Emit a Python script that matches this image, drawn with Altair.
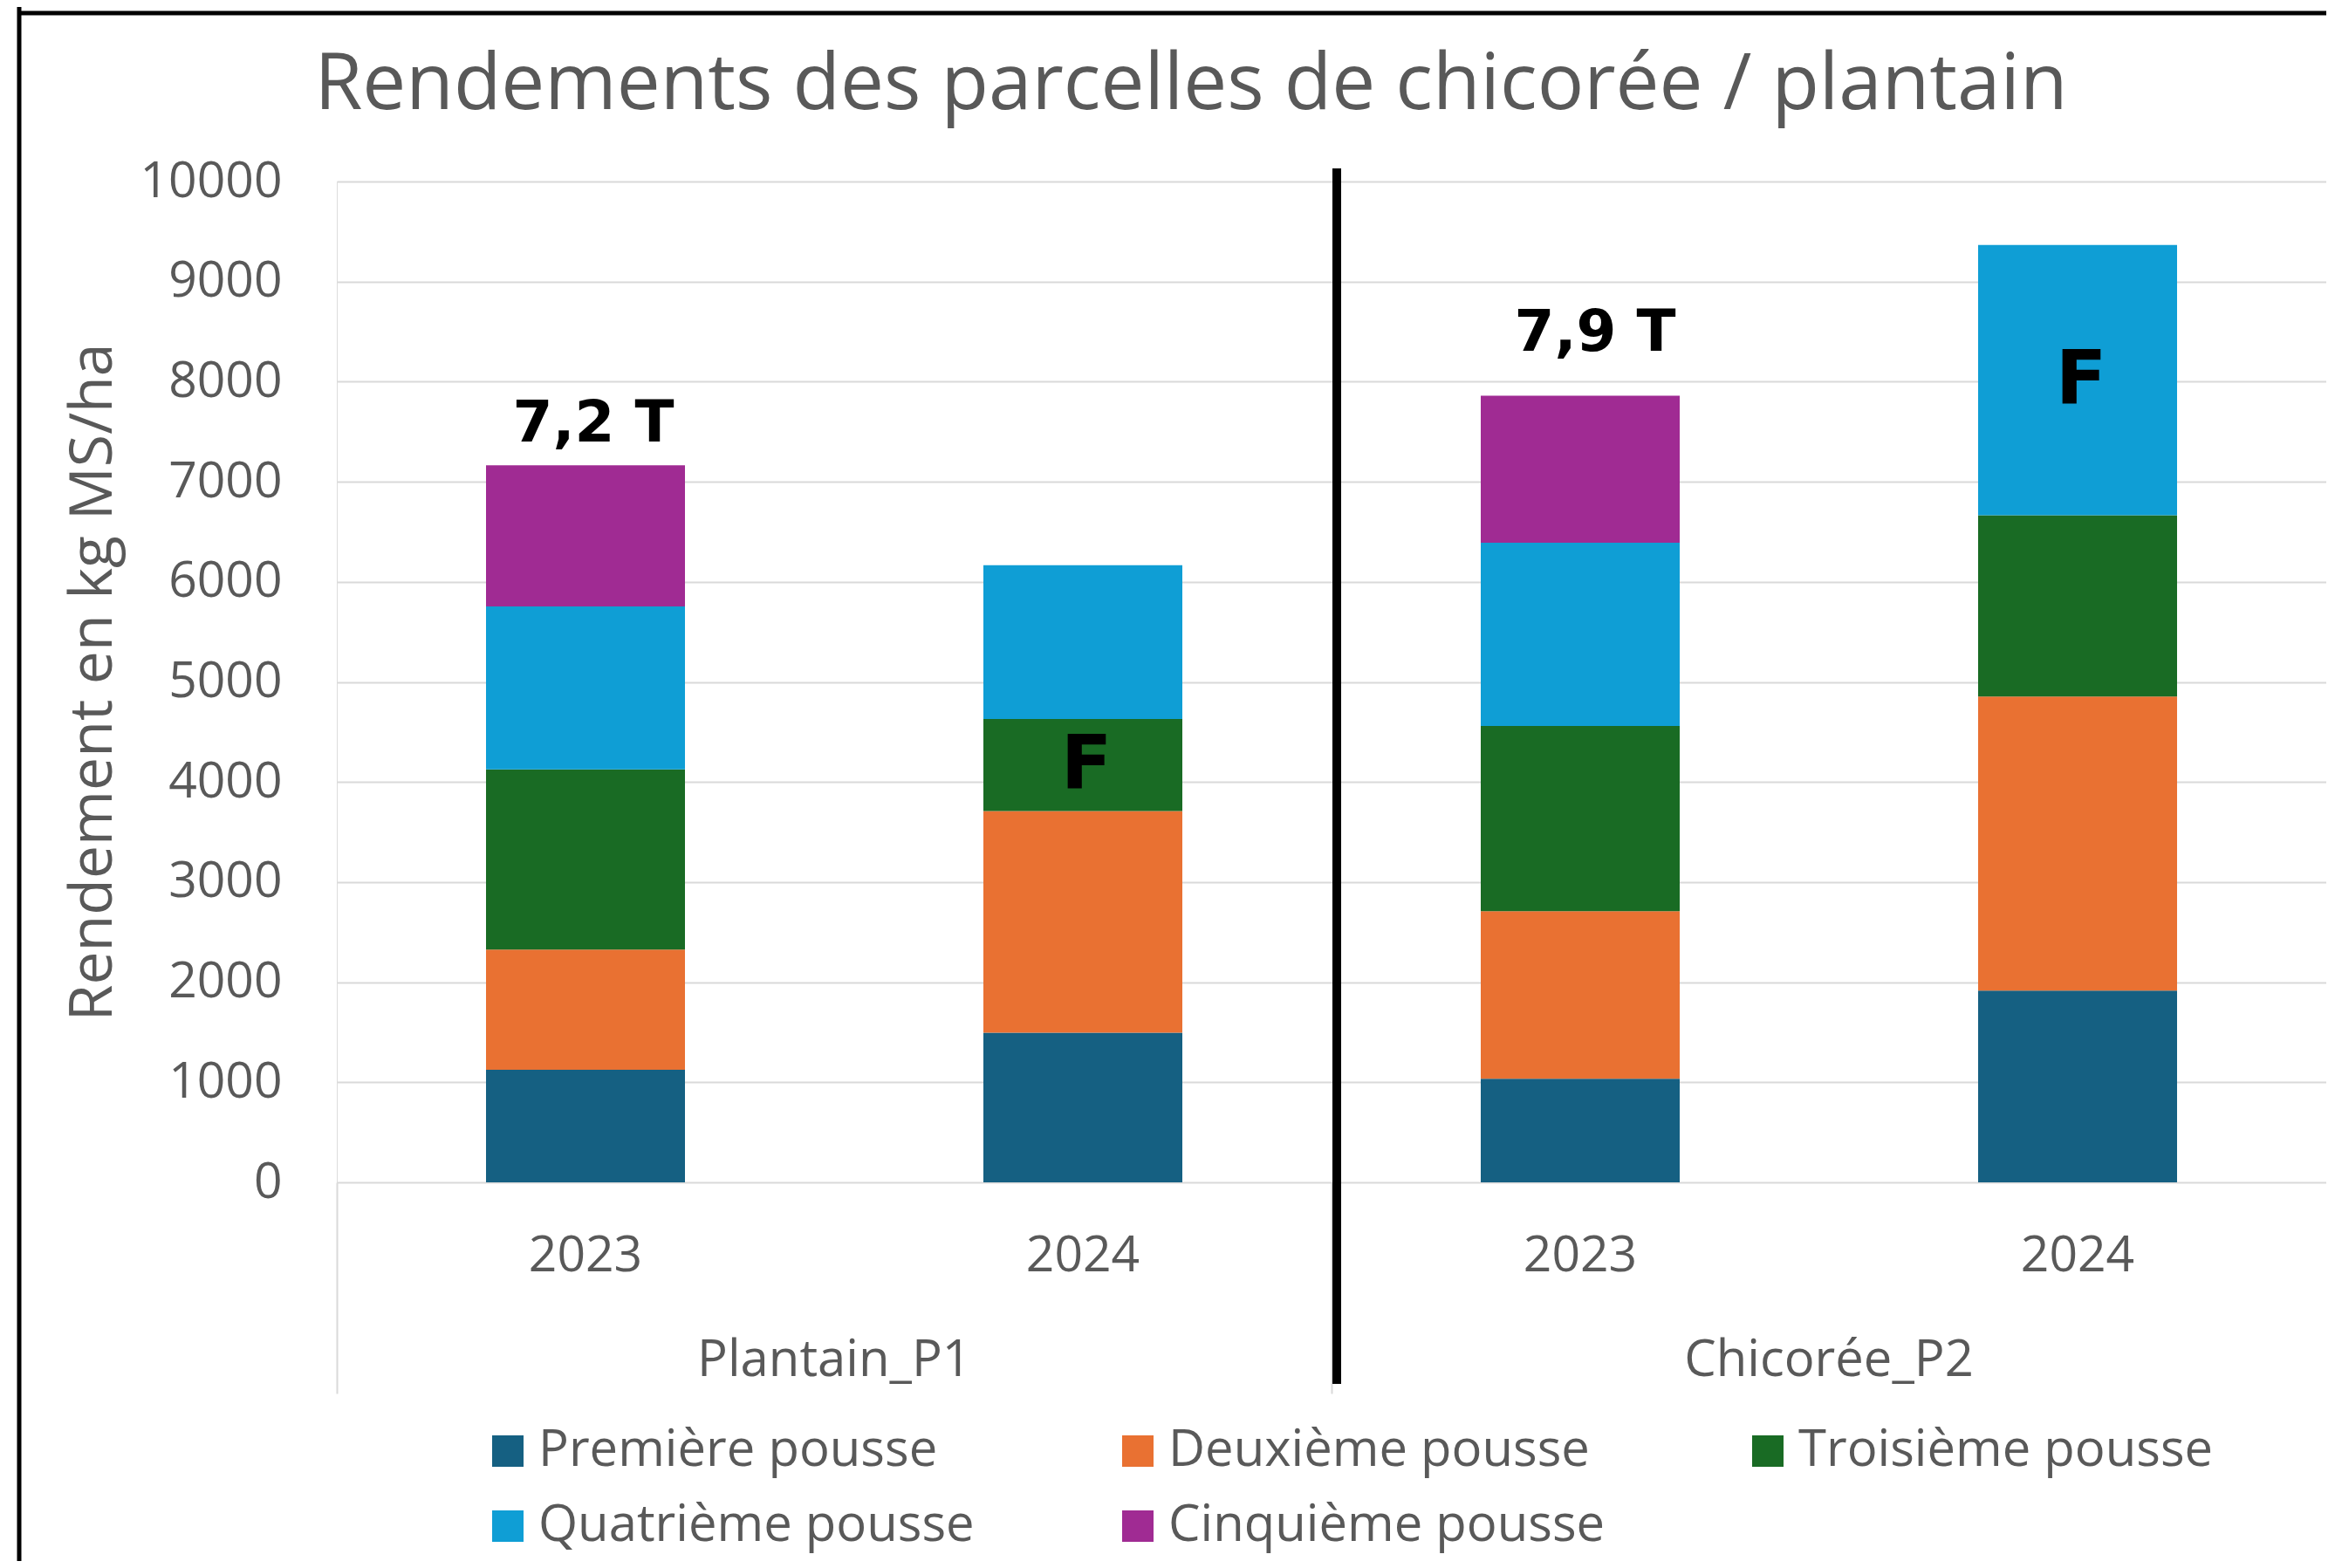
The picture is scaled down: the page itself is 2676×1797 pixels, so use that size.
import altair as alt
import pandas as pd

# ---------------- data ----------------
groups = ["Plantain_P1", "Chicorée_P2"]
years = ["2023", "2024"]
pousses = ["Première pousse", "Deuxième pousse", "Troisième pousse",
           "Quatrième pousse", "Cinquième pousse"]
colors = ["#156082", "#E97132", "#196B24", "#0F9ED5", "#A02B93"]

# kg MS/ha per pousse (None = no cut)
plantain_2023 = [1125, 1200, 1800, 1630, 1410]
plantain_2024 = [1495, 2215, 920, 1535, None]
chicoree_2023 = [1035, 1675, 1850, 1830, 1470]
chicoree_2024 = [1915, 2940, 1810, 2700, None]

total_keys = ["Plantain_P1 2023", "Chicorée_P2 2023"]
total_texts = ["7,2 T", "7,9 T"]
fauche_keys = ["Plantain_P1 2024", "Chicorée_P2 2024"]
fauche_pousses = ["Troisième pousse", "Quatrième pousse"]
fauche_text = "F"

y_ticks = [0, 1000, 2000, 3000, 4000, 5000, 6000, 7000, 8000, 9000, 10000]
title_text = "Rendements des parcelles de chicorée / plantain"
y_title = "Rendement en kg MS/ha"

series = {
    ("Plantain_P1", "2023"): plantain_2023,
    ("Plantain_P1", "2024"): plantain_2024,
    ("Chicorée_P2", "2023"): chicoree_2023,
    ("Chicorée_P2", "2024"): chicoree_2024,
}
fauche = set(zip(fauche_keys, fauche_pousses))
rows = []
for (g, yr), vals in series.items():
    key = f"{g} {yr}"
    for i, (p, v) in enumerate(zip(pousses, vals)):
        if v is None:
            continue
        rows.append(dict(group=g, year=yr, key=key, pousse=p, order=i, value=v,
                         note=fauche_text if (key, p) in fauche else ""))
df = pd.DataFrame(rows)
keys = [f"{g} {yr}" for g in groups for yr in years]

# ---------------- layout ----------------
W, H = 2280, 1147
FONT = "Open Sans"
GREY = "#595959"

xkey_scale = alt.Scale(type="band", domain=keys, paddingInner=0.6, paddingOuter=0.3)
yscale = alt.Scale(domain=[0, 10000], nice=False)

x_axis = alt.Axis(title=None, orient="bottom", labelExpr="split(datum.label, ' ')[1]",
                  labelAngle=0, labelFontSize=57, labelColor=GREY, labelFont=FONT,
                  labelPadding=56, ticks=False, domain=False, grid=False)
y_axis = alt.Axis(values=y_ticks, format="d", title=y_title, titleFontSize=68,
                  titleColor=GREY, titleFont=FONT, titleFontWeight="normal",
                  titleX=-259, titleY=H / 2, titleAngle=270, titleBaseline="alphabetic",
                  titleAlign="center", labelFontSize=57, labelColor=GREY, labelFont=FONT,
                  labelPadding=63, ticks=False, domain=False, grid=True,
                  gridColor="#D9D9D9", gridWidth=2)

X = alt.X("key:N", scale=xkey_scale, axis=x_axis, bandPosition=0.5)

bars = alt.Chart(df).mark_bar().encode(
    x=alt.X("key:N", scale=xkey_scale, axis=x_axis),
    y=alt.Y("value:Q", stack="zero", scale=yscale, axis=y_axis),
    color=alt.Color("pousse:N", scale=alt.Scale(domain=pousses, range=colors),
                    legend=alt.Legend(title=None, orient="none", legendX=167, legendY=1426,
                                      direction="horizontal", columns=3, symbolType="square",
                                      symbolSize=1296, symbolStrokeWidth=0, labelFontSize=58,
                                      labelColor=GREY, labelFont=FONT, labelOffset=6,
                                      columnPadding=157, rowPadding=28, gridAlign="all",
                                      padding=0, labelLimit=1200)),
    order=alt.Order("order:Q", sort="ascending"),
)


def total_label(i, dx, dy):
    return alt.Chart(df).transform_aggregate(
        total="sum(value)", groupby=["key"]
    ).transform_filter(
        alt.datum.key == total_keys[i]
    ).mark_text(
        text=total_texts[i], font="DejaVu Sans", fontWeight="bold", fontSize=66,
        color="black", baseline="alphabetic", align="center", dy=dy, dx=dx
    ).encode(
        x=X,
        y=alt.Y("total:Q", scale=yscale, axis=y_axis),
    )


f_labels = alt.Chart(df).transform_stack(
    stack="value", groupby=["key"], as_=["v0", "v1"],
    sort=[alt.SortField("order", "ascending")]
).transform_calculate(
    mid="(datum.v0 + datum.v1) / 2"
).transform_filter(
    alt.datum.note == fauche_text
).mark_text(
    font="DejaVu Sans", fontWeight="bold", fontSize=86, color="black",
    baseline="middle", align="center", dx=4
).encode(
    x=X,
    y=alt.Y("mid:Q", scale=yscale, axis=y_axis),
    text="note:N",
)

main = alt.layer(bars, total_label(0, 9, -27), total_label(1, 17, -51), f_labels)

# group axis + black separator
group_scale = alt.Scale(type="band", domain=groups, paddingInner=0, paddingOuter=0)
group_axis = alt.Axis(title=None, orient="bottom", labelAngle=0, labelFontSize=58,
                      labelColor=GREY, labelFont=FONT, labelPadding=-67, labelLimit=1000,
                      ticks=True, tickSize=242, tickColor="#D9D9D9", tickWidth=2,
                      bandPosition=0, domain=False, grid=False)
sep_df = pd.DataFrame({"group": [groups[1]]})
sep = alt.Chart(sep_df).mark_rule(color="black", strokeWidth=10, xOffset=6).encode(
    x=alt.X("group:N", scale=group_scale, axis=group_axis, bandPosition=0),
    y=alt.value(-15),
    y2=alt.value(1378),
)
sep_layer = alt.layer(sep)

one = pd.DataFrame({"a": [0]})
border_v = alt.Chart(one).mark_rule(color="black", strokeWidth=5).encode(
    x=alt.value(-364), y=alt.value(-200), y2=alt.value(1590))
border_h = alt.Chart(one).mark_rule(color="black", strokeWidth=5).encode(
    y=alt.value(-193), x=alt.value(-366), x2=alt.value(2300))
title_mark = alt.Chart(one).mark_text(
    text=title_text, font=FONT, fontSize=89, color=GREY, align="center",
    baseline="alphabetic"
).encode(x=alt.value(979), y=alt.value(-83))

chart = alt.layer(main, sep_layer, border_v, border_h, title_mark).resolve_scale(
    x="independent"
).properties(
    width=W, height=H,
    padding={"left": 378, "top": 200, "right": 0, "bottom": 434},
    autosize=alt.AutoSizeParams(type="none"),
).configure_view(strokeWidth=0).configure(font=FONT)

chart.save("out.html", embed_options={"renderer": "svg", "actions": False})
